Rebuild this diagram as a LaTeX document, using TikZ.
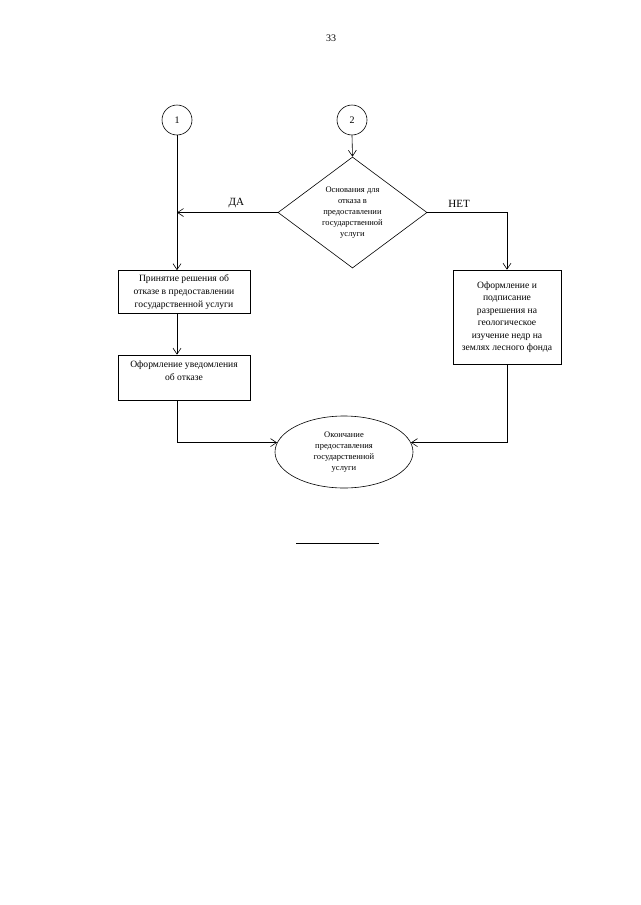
\documentclass[tikz,border=0pt]{standalone}
\usepackage{fontspec}
\setmainfont{Liberation Serif}
\usetikzlibrary{shapes.geometric}
\usetikzlibrary{arrows.meta}

\begin{document}
\begin{tikzpicture}[x=1pt,y=-1pt,line width=0.6pt,
	arr/.style={-{Straight Barb[length=6pt,width=8pt]}},
	conn/.style={draw,circle,minimum size=30pt,inner sep=0pt,font=\fontsize{10}{12}\selectfont},
	box/.style={draw,rectangle,align=center,inner sep=2pt,font=\fontsize{9.6}{13}\selectfont},
	lbl/.style={font=\fontsize{11}{12}\selectfont}]
	\useasboundingbox (0,0) rectangle (640,905);
	\node[font=\fontsize{10}{12}\selectfont] (pg) at (331,38) {33};
	\node[conn] (c1) at (177,120) {1};
	\node[conn] (c2) at (352,120) {2};
	\node[draw,diamond,aspect=1.33,inner sep=0pt,minimum width=149pt,minimum height=111pt,align=center,font=\fontsize{8.5}{11}\selectfont] (dec) at (352.5,212.5) {Основания для\\отказа в\\предоставлении\\государственной\\услуги};
	\node[box,minimum width=132pt,minimum height=43pt] (refuse) at (184,292) {Принятие решения об\\отказе в предоставлении\\государственной услуги};
	\node[box,minimum width=132pt,minimum height=45pt,text height=23pt,text depth=18pt] (notice) at (184,377.5) {Оформление уведомления\\об отказе};
	\node[box,minimum width=108pt,minimum height=94pt,font=\fontsize{9.6}{12.5}\selectfont] (permit) at (507,317) {Оформление и\\подписание\\разрешения на\\геологическое\\изучение недр на\\землях лесного фонда};
	\node[draw,ellipse,inner sep=0pt,minimum width=138pt,minimum height=72pt,align=center,font=\fontsize{8.5}{11}\selectfont] (fin) at (344,452) {Окончание\\предоставления\\государственной\\услуги};
	\draw[arr] (c2.south) -- (dec.north);
	\draw[arr] (dec.west) -- (dec.west -| c1) node[lbl,pos=0.41,above=1pt] {ДА};
	\draw[arr] (dec.east) -| (permit.north) node[lbl,pos=0.2,above=1pt] {НЕТ};
	\draw[arr] (c1.south) -- (c1 |- refuse.north);
	\draw[arr] (c1 |- refuse.south) -- (c1 |- notice.north);
	\draw[arr] (c1 |- notice.south) |- (fin.172);
	\draw[arr] (permit.south) |- (fin.8);
	\draw (296,543) -- (379,543);
\end{tikzpicture}
\end{document}
